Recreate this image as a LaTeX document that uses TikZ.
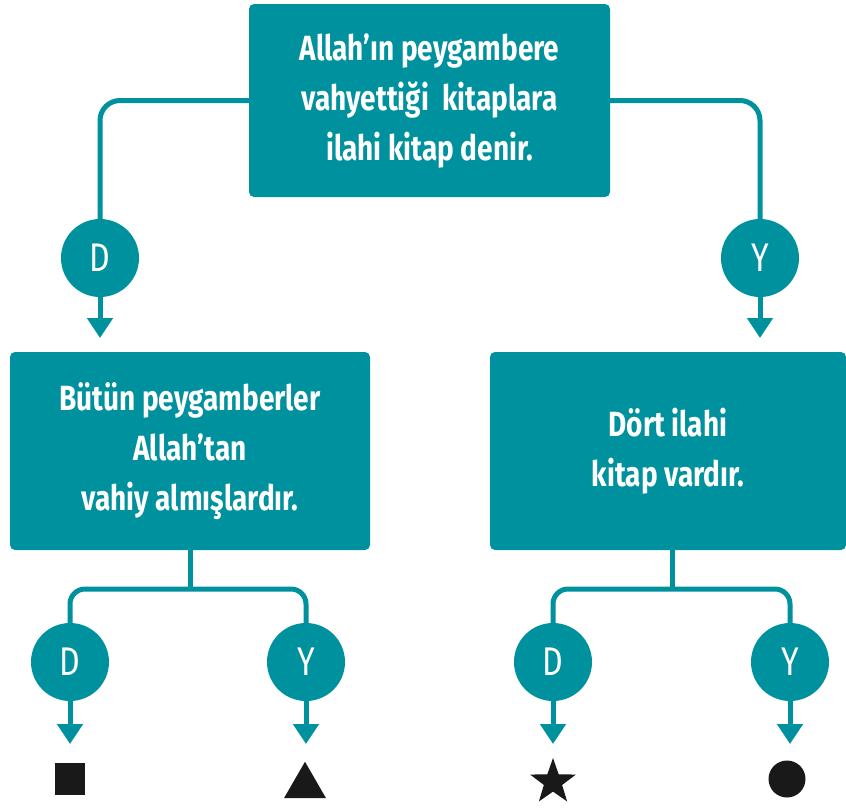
\documentclass[tikz,border=0pt]{standalone}
\usepackage{fontspec}
\setmainfont[FakeStretch=0.80]{Fira Sans}
\usetikzlibrary{arrows.meta,shapes.geometric}
\definecolor{teal1}{HTML}{00919E}
\begin{document}
\begin{tikzpicture}[x=1pt,y=-1pt,
  box/.style={fill=teal1,rounded corners=5pt,text=white,align=center,
    font=\fontsize{35}{50}\selectfont\bfseries,inner sep=0pt},
  yn/.style={circle,fill=teal1,minimum size=78pt,inner sep=0pt,text=white,
    font=\fontsize{40}{44}\selectfont},
  conn/.style={draw=teal1,line width=5pt},
  arr/.style={conn,-{Triangle[width=25pt,length=20pt]}},
  sym/.style={fill=black!90,inner sep=0pt}]
\useasboundingbox (0,0) rectangle (846,807);
% boxes
\node[box,minimum width=361pt,minimum height=193pt] (top) at (429.5,100.5)
  {Allah’ın peygambere\\vahyettiği\ \ kitaplara\\ilahi kitap denir.};
\node[box,minimum width=360pt,minimum height=198pt] (lb) at (190,451)
  {Bütün peygamberler\\Allah’tan\\vahiy almışlardır.};
\node[box,minimum width=356pt,minimum height=198pt] (rb) at (668,451)
  {Dört ilahi\\kitap vardır.};
% first level circles
\node[yn] (d1) at (100,258) {D};
\node[yn] (y1) at (760,258) {Y};
\coordinate (t1) at (100,338);
\coordinate (t2) at (760,338);
\draw[conn,rounded corners=20pt] (top.west) -| (d1.north);
\draw[conn,rounded corners=20pt] (top.east) -| (y1.north);
\draw[arr] (d1.south) -- (t1);
\draw[arr] (y1.south) -- (t2);
% second level
\node[yn] (d2) at (70,662) {D};
\node[yn] (y2) at (306,662) {Y};
\node[yn] (d3) at (553,662) {D};
\node[yn] (y3) at (790,662) {Y};
\coordinate (j1) at (190,589);
\coordinate (j2) at (672,589);
\draw[conn] (lb.south) -- (j1);
\draw[conn] (rb.south -| j2) -- (j2);
\draw[conn,rounded corners=15pt] (d2.north) |- (j1) -| (y2.north);
\draw[conn,rounded corners=15pt] (d3.north) |- (j2) -| (y3.north);
\coordinate (t3) at (70,744);
\coordinate (t4) at (306,744);
\coordinate (t5) at (553,744);
\coordinate (t6) at (790,744);
\draw[arr] (d2.south) -- (t3);
\draw[arr] (y2.south) -- (t4);
\draw[arr] (d3.south) -- (t5);
\draw[arr] (y3.south) -- (t6);
% symbols
\node[sym,rectangle,minimum width=30pt,minimum height=32pt] (sq) at (70,779) {};
\node[sym,regular polygon,regular polygon sides=3,minimum size=48.5pt] (tri) at (305,786) {};
\node[sym,star,star points=5,star point ratio=2.5,minimum size=48pt] (st) at (553,782) {};
\node[sym,circle,minimum size=37pt] (ci) at (787,779) {};
\end{tikzpicture}
\end{document}
